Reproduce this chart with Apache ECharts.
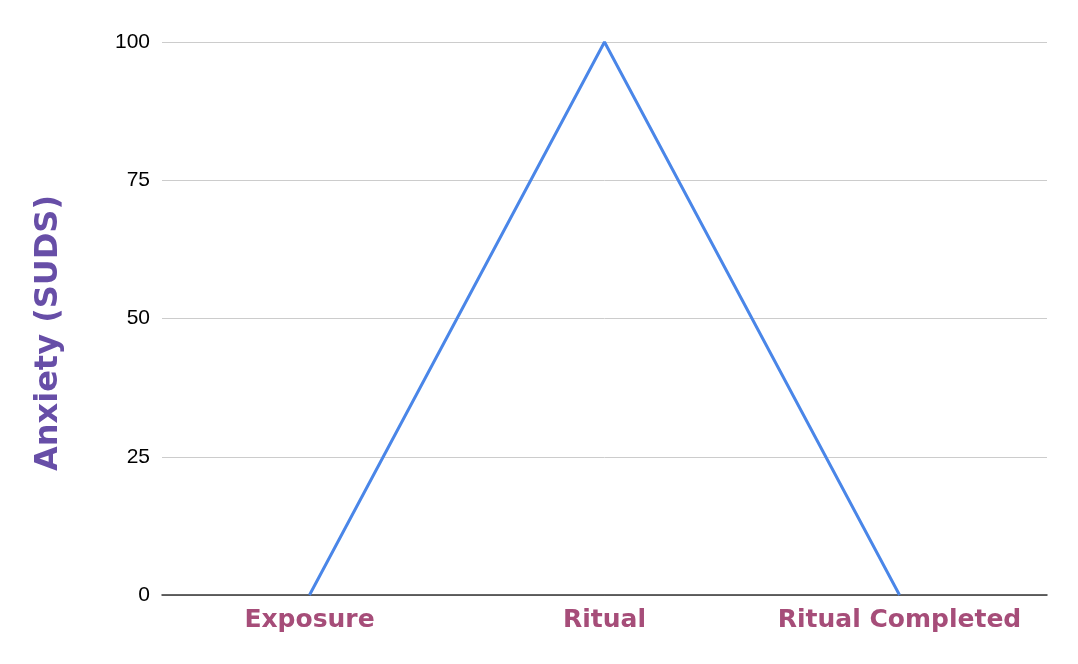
<!DOCTYPE html>
<html><head><meta charset="utf-8">
<script src="https://cdn.jsdelivr.net/npm/echarts@6/dist/echarts.min.js"></script>
<style>html,body{margin:0;padding:0;background:#fff}#c{width:1078px;height:664px}</style>
</head><body><div id="c"></div>
<script>
const categories = ["Exposure", "Ritual", "Ritual Completed"];
const anxiety = [0, 100, 0];
const yTicks = [0, 25, 50, 75, 100];
const yTitle = "Anxiety (SUDS)";

const chart = echarts.init(document.getElementById('c'), null, {renderer: 'canvas'});
chart.setOption({
  animation: false,
  grid: {left: 162, right: 31, top: 42, bottom: 69, containLabel: false},
  graphic: [{
    type: 'text',
    x: 49, y: 333,
    rotation: Math.PI / 2,
    style: {
      text: yTitle,
      fill: '#674ea7',
      font: 'bold 32px "DejaVu Sans"',
      textAlign: 'center',
      textVerticalAlign: 'middle'
    }
  }],
  xAxis: {
    type: 'category',
    data: categories,
    boundaryGap: true,
    axisLine: {lineStyle: {color: '#333333', width: 1.5}},
    axisTick: {show: false},
    axisLabel: {interval: 0, hideOverlap: false, color: '#a64d79', fontFamily: 'DejaVu Sans', fontWeight: 'bold', fontSize: 25, margin: 13}
  },
  yAxis: {
    type: 'value',
    min: yTicks[0], max: yTicks[yTicks.length - 1], interval: 25,
    axisLine: {show: false},
    axisTick: {show: false},
    axisLabel: {color: '#000000', fontFamily: 'Liberation Sans', fontSize: 21, margin: 12},
    splitLine: {lineStyle: {color: '#cccccc', width: 1}}
  },
  series: [{
    type: 'line',
    data: anxiety,
    symbol: 'none',
    lineStyle: {color: '#4a86e8', width: 3},
    z: 3
  }]
});
</script></body></html>
